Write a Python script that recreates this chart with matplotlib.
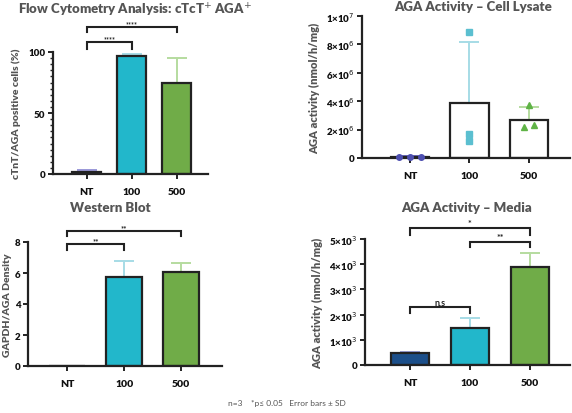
import numpy as np
import matplotlib.pyplot as plt

plt.rcParams['font.family'] = ['Lato', 'DejaVu Sans']

groups = ['NT', '100', '500']

# flow cytometry (%)
flow_mean = [2, 97, 75]
flow_sd = [1, 1.5, 20]

# AGA activity, cell lysate (nmol/h/mg)
lys_mean = [0.1e6, 3.85e6, 2.65e6]
lys_sd = [0.05e6, 4.35e6, 0.95e6]
lys_pts = [[0.05e6, 0.05e6, 0.05e6], [8.9e6, 1.7e6, 1.2e6], [3.7e6, 2.2e6, 2.3e6]]
lys_offsets = [[-0.185, 0, 0.185], [0, 0, 0], [0, -0.08, 0.09]]
lys_ticks = [0, 2e6, 4e6, 6e6, 8e6, 1e7]
lys_ticklabels = ['0', '2×10$^6$', '4×10$^6$', '6×10$^6$', '8×10$^6$', '1×10$^7$']

# western blot density
wb_mean = [0, 5.75, 6.05]
wb_sd = [0, 1.0, 0.6]

# AGA activity, media (nmol/h/mg)
med_mean = [480, 1460, 3870]
med_sd = [30, 390, 560]
med_ticks = [0, 1000, 2000, 3000, 4000, 5000]
med_ticklabels = ['0', '1×10$^3$', '2×10$^3$', '3×10$^3$', '4×10$^3$', '5×10$^3$']

W, H = 572, 414
fig = plt.figure(figsize=(W / 100, H / 100), dpi=100)

def make_ax(l, r, b, t):
    return fig.add_axes([l / W, 1 - b / H, (r - l) / W, (b - t) / H])

dark = '#222222'
grey = '#555555'
bar_cols = ['#262a5c', '#22b7cb', '#70ac48']
err_cols = ['#9a98d8', '#a6dce6', '#b5dc9f']


def style(ax):
    for s in ['top', 'right']:
        ax.spines[s].set_visible(False)
    for s in ['left', 'bottom']:
        ax.spines[s].set_linewidth(1.6)
        ax.spines[s].set_color(dark)
    ax.tick_params(width=1.4, length=3.5, color=dark, labelsize=7, pad=2)
    ax.set_xticks(range(3))
    ax.set_xticklabels(groups, fontsize=7.5)
    ax.tick_params(axis='x', pad=6)
    for lab in ax.get_xticklabels() + ax.get_yticklabels():
        lab.set_fontweight('heavy')
        lab.set_color('#111111')


def bars(ax, mean, sd, cols, ecols, width):
    x = np.arange(3)
    for i in range(3):
        ax.errorbar(x[i], mean[i], yerr=[[0], [sd[i]]], color=ecols[i],
                    capsize=7, capthick=1.4, elinewidth=1.4, zorder=1)
    ax.bar(x, mean, width=width, color=cols, edgecolor=dark, linewidth=1.6, zorder=2)


def bracket(ax, x1, x2, y, h, text, fs=6):
    ax.plot([x1, x1, x2, x2], [y - h, y, y, y - h], color=dark, lw=1.5,
            clip_on=False, solid_joinstyle='miter')
    ax.text((x1 + x2) / 2, y, text, ha='center', va='bottom', fontsize=fs,
            fontweight='bold', color=dark, clip_on=False)


# ---- Flow cytometry
ax1 = make_ax(53, 208, 175, 53)
bars(ax1, flow_mean, flow_sd, bar_cols, err_cols, 0.65)
ax1.set_ylim(0, 100)
ax1.set_xlim(-0.756, 2.7)
ax1.set_yticks([0, 50, 100])
ax1.set_yticks(np.arange(0, 101, 5), minor=True)
style(ax1)
ax1.tick_params(axis='y', which='minor', length=2, width=1.0, color=dark)
ax1.set_ylabel('cTnT/AGA positive cells (%)', fontsize=7.5, fontweight='heavy', color=grey, labelpad=5)
bracket(ax1, 0, 2, 120.5, 4.5, '****', 5)
bracket(ax1, 0, 1, 108, 5.5, '****', 5)
fig.text(18 / W, 1 - 10 / H, 'Flow Cytometry Analysis: cTcT$^{+}$ AGA$^{+}$', fontsize=9.5,
         fontweight='heavy', color=grey, va='center', ha='left')

# ---- Cell lysate
ax2 = make_ax(362, 570, 159, 17)
bars(ax2, lys_mean, lys_sd, ['white'] * 3, ['#6a6ac0', err_cols[1], err_cols[2]], 0.64)
markers = ['o', 's', '^']
mcols = ['#4d4fb0', '#5bbfd0', '#5fb346']
msizes = [4, 4.5, 5]
for i in range(3):
    ax2.plot(np.array(lys_offsets[i]) + i, lys_pts[i], markers[i], color=mcols[i],
             ms=msizes[i], zorder=3, clip_on=False)
ax2.set_ylim(0, 1e7)
ax2.set_xlim(-0.807, 2.69)
ax2.set_yticks(lys_ticks)
ax2.set_yticklabels(lys_ticklabels)
style(ax2)
ax2.set_ylabel('AGA activity (nmol/h/mg)', fontsize=8, fontweight='heavy', color=grey, labelpad=4)
fig.text(473 / W, 1 - 7 / H, 'AGA Activity – Cell Lysate', fontsize=9.5,
         fontweight='heavy', color=grey, va='center', ha='center')

# ---- Western blot
ax3 = make_ax(28, 222, 367, 243)
bars(ax3, wb_mean, wb_sd, bar_cols, err_cols, 0.64)
ax3.set_ylim(0, 8)
ax3.set_xlim(-0.69, 2.72)
ax3.set_yticks([0, 2, 4, 6, 8])
style(ax3)
ax3.set_ylabel('GAPDH/AGA Density', fontsize=7.5, fontweight='heavy', color=grey, labelpad=2)
bracket(ax3, 0, 2, 8.71, 0.32, '**', 5.5)
bracket(ax3, 0, 1, 7.87, 0.39, '**', 5.5)
fig.text(110 / W, 1 - 208 / H, 'Western Blot', fontsize=9.5, fontweight='heavy',
         color=grey, va='center', ha='center')

# ---- Media
ax4 = make_ax(365, 570, 366, 240)
bars(ax4, med_mean, med_sd, ['#1c4f8a', bar_cols[1], bar_cols[2]], ['#9aa0d8', err_cols[1], err_cols[2]], 0.64)
ax4.set_ylim(0, 5000)
ax4.set_xlim(-0.75, 2.67)
ax4.set_yticks(med_ticks)
ax4.set_yticklabels(med_ticklabels)
style(ax4)
ax4.set_ylabel('AGA activity (nmol/h/mg)', fontsize=8, fontweight='heavy', color=grey, labelpad=4)
bracket(ax4, 0, 2, 5437, 278, '*', 6.5)
bracket(ax4, 1, 2, 4881, 198, '**', 6.5)
bracket(ax4, 0, 1, 2302, 239, 'n.s', 6.5)
fig.text(467 / W, 1 - 208 / H, 'AGA Activity – Media', fontsize=9.5, fontweight='heavy',
         color=grey, va='center', ha='center')

fig.text(287 / W, 1 - 404 / H, 'n=3    *p≤ 0.05   Error bars ± SD', fontsize=6,
         color=grey, ha='center', va='center')

fig.savefig('out.png', dpi=100)
